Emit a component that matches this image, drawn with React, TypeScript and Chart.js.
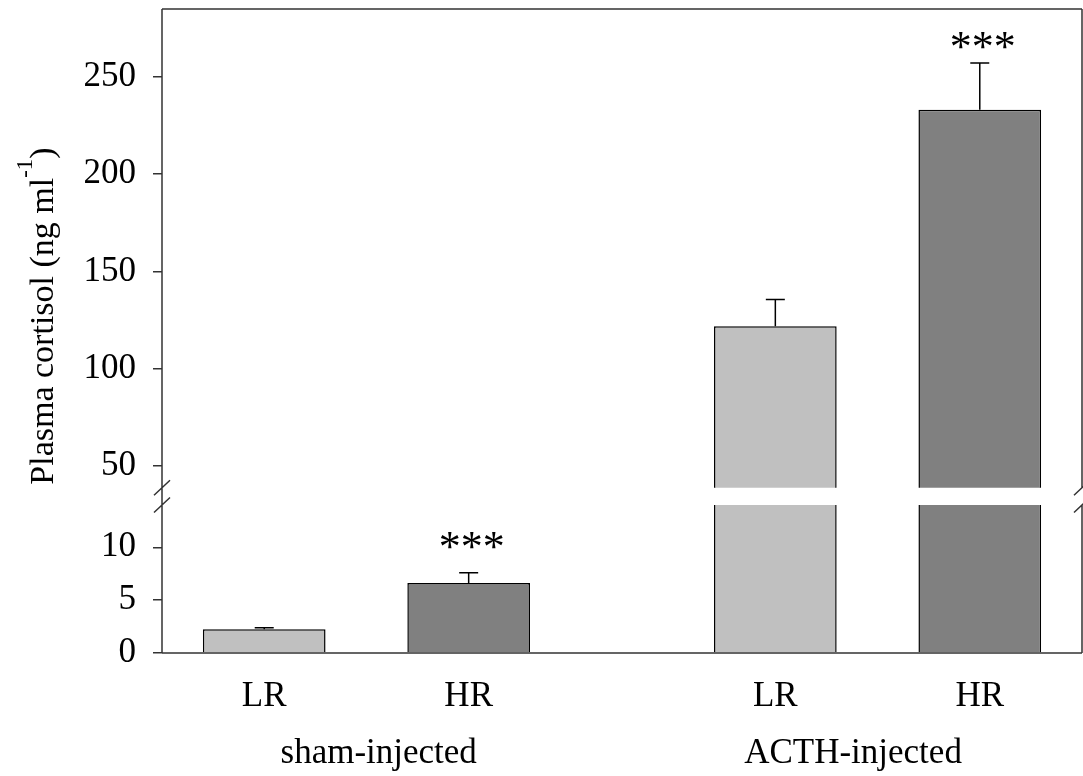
import { useEffect, useRef } from 'react';
import { Chart, registerables } from 'chart.js';

Chart.register(...registerables);

// ---- data ----
const categories = ['LR', 'HR', 'LR', 'HR'];
const xPositions = [0, 1, 2.5, 3.5];
const groups = ['sham-injected', 'ACTH-injected'];
const groupPositions = [0.56, 2.88];
const means = [2.25, 6.63, 121.8, 233.2];
const sems = [0.15, 0.96, 13.7, 24.0];
const significance = ['', '***', '', '***'];
const lowerTicks = [0, 5, 10];
const upperTicks = [50, 100, 150, 200, 250];
const lowerRange = [0, 14];
const upperRange = [38.7, 285];
const xRange = [-0.5, 4.0];
const titleMain = 'Plasma cortisol (ng ml';
const titleSup = '-1';
const titleEnd = ')';

// ---- styles ----
const barColors = ['#c0c0c0', '#808080', '#c0c0c0', '#808080'];
const sigGap = [0, 12, 0, 2];
const FONT = '"Liberation Serif", "Times New Roman", serif';
const AXIS = '#333333';

const framePlugin = {
  id: 'frameAndErrors',
  afterDatasetsDraw(chart: any) {
    const { ctx, chartArea: a, scales } = chart;
    const hi = scales.yHigh;
    const lo = scales.yLow;
    const xs = scales.x;
    ctx.save();
    // error bars
    ctx.strokeStyle = '#000';
    ctx.lineWidth = 1.5;
    ctx.beginPath();
    means.forEach((m, i) => {
      const sc = m > upperRange[0] ? hi : lo;
      const px = xs.getPixelForValue(xPositions[i]);
      const y0 = sc.getPixelForValue(m);
      const y1 = sc.getPixelForValue(m + sems[i]);
      ctx.moveTo(px, y0);
      ctx.lineTo(px, y1);
      ctx.moveTo(px - 9.5, y1);
      ctx.lineTo(px + 9.5, y1);
    });
    ctx.stroke();
    // significance
    ctx.fillStyle = '#000';
    ctx.font = `44px ${FONT}`;
    ctx.textAlign = 'center';
    ctx.textBaseline = 'alphabetic';
    means.forEach((m, i) => {
      if (!significance[i]) return;
      const sc = m > upperRange[0] ? hi : lo;
      const px = xs.getPixelForValue(xPositions[i]);
      const y1 = sc.getPixelForValue(m + sems[i]);
      ctx.fillText(significance[i], px + 3, y1 - sigGap[i]);
    });
    // frame
    ctx.strokeStyle = AXIS;
    ctx.lineWidth = 1.5;
    ctx.beginPath();
    ctx.moveTo(a.left, a.top);
    ctx.lineTo(a.left, a.bottom);
    ctx.moveTo(a.left, a.top);
    ctx.lineTo(a.right, a.top);
    ctx.moveTo(a.left, a.bottom);
    ctx.lineTo(a.right, a.bottom);
    ctx.moveTo(a.right, a.top);
    ctx.lineTo(a.right, hi.bottom);
    ctx.moveTo(a.right, lo.top);
    ctx.lineTo(a.right, a.bottom);
    for (const x of [a.left, a.right]) {
      for (const y of [hi.bottom, lo.top]) {
        ctx.moveTo(x - 8, y + 7.5);
        ctx.lineTo(x + 8, y - 7.5);
      }
    }
    ctx.stroke();
    ctx.restore();
  },
  afterDraw(chart: any) {
    const { ctx } = chart;
    ctx.save();
    const mainFont = `34px ${FONT}`;
    const supFont = `23px ${FONT}`;
    ctx.font = mainFont;
    const w1 = ctx.measureText(titleMain).width;
    const w3 = ctx.measureText(titleEnd).width;
    ctx.font = supFont;
    const w2 = ctx.measureText(titleSup).width;
    const total = w1 + w2 + w3;
    ctx.translate(53, 316);
    ctx.rotate(-Math.PI / 2);
    ctx.fillStyle = '#000';
    ctx.textAlign = 'left';
    ctx.textBaseline = 'alphabetic';
    let x = -total / 2;
    ctx.font = mainFont;
    ctx.fillText(titleMain, x, 0);
    x += w1;
    ctx.font = supFont;
    ctx.fillText(titleSup, x, -21);
    x += w2;
    ctx.font = mainFont;
    ctx.fillText(titleEnd, x, 0);
    ctx.restore();
  },
};

export default function App() {
  const ref = useRef<HTMLCanvasElement | null>(null);
  useEffect(() => {
    if (!ref.current) return;
    const lowerData = xPositions.map((x, i) => ({ x, y: means[i] }));
    const upperData = xPositions
      .map((x, i) => ({ x, y: means[i] }))
      .filter((d) => d.y > upperRange[0]);
    const yCommon = (ticks: number[], range: number[], weight: number, stackWeight: number) => ({
      type: 'linear' as const,
      position: 'left' as const,
      stack: 'y',
      stackWeight,
      weight,
      min: range[0],
      max: range[1],
      border: { display: false },
      grid: {
        display: true,
        drawOnChartArea: false,
        drawTicks: true,
        tickLength: 9,
        color: AXIS,
        lineWidth: 1.5,
      },
      ticks: {
        color: '#000',
        font: { family: FONT, size: 35 },
        padding: 17,
        autoSkip: false,
      },
      afterBuildTicks: (s: any) => {
        s.ticks = ticks.map((v) => ({ value: v }));
      },
      afterFit: (s: any) => {
        s.width = 100;
        s.paddingTop = 0;
        s.paddingBottom = 0;
      },
    });
    const xCommon = (pos: number[], labels: string[], weight: number, height: number, padding: number) => ({
      type: 'linear' as const,
      position: 'bottom' as const,
      weight,
      offset: false,
      min: xRange[0],
      max: xRange[1],
      border: { display: false },
      grid: { display: false },
      ticks: {
        color: '#000',
        font: { family: FONT, size: 35 },
        padding,
        maxRotation: 0,
        autoSkip: false,
        callback: (_v: any, i: number) => labels[i],
      },
      afterBuildTicks: (s: any) => {
        s.ticks = pos.map((v) => ({ value: v }));
      },
      afterFit: (s: any) => {
        s.height = height;
        s.paddingLeft = 0;
        s.paddingRight = 0;
      },
    });
    const chart = new Chart(ref.current, {
      type: 'bar',
      data: {
        datasets: [
          {
            data: lowerData,
            yAxisID: 'yLow',
            xAxisID: 'x',
            backgroundColor: barColors,
            borderColor: '#000',
            borderWidth: 1.5,
            grouped: false,
            barPercentage: 0.6,
            categoryPercentage: 1,
            clip: 0,
          } as any,
          {
            data: upperData,
            yAxisID: 'yHigh',
            xAxisID: 'x',
            backgroundColor: barColors.slice(2),
            borderColor: '#000',
            borderWidth: 1.5,
            grouped: false,
            barPercentage: 0.6,
            categoryPercentage: 1,
            clip: 0,
          } as any,
        ],
      },
      options: {
        animation: false,
        responsive: true,
        maintainAspectRatio: false,
        layout: { padding: { left: 62, right: 1, top: 9, bottom: 0 } },
        plugins: {
          legend: { display: false },
          tooltip: { enabled: false },
        },
        scales: {
          x: xCommon(xPositions, categories, 0, 62, 15),
          x2: xCommon(groupPositions, groups, 1, 61, 10),
          yHigh: yCommon(upperTicks, upperRange, 3, 478.7),
          yGap: {
            type: 'linear',
            position: 'left',
            stack: 'y',
            stackWeight: 17.3,
            weight: 2,
            display: false,
            min: 0,
            max: 1,
            afterFit: (s: any) => {
              s.width = 0;
              s.paddingTop = 0;
              s.paddingBottom = 0;
            },
          },
          yLow: yCommon(lowerTicks, lowerRange, 1, 148),
        } as any,
      },
      plugins: [framePlugin],
    });
    return () => chart.destroy();
  }, []);
  return (
    <div style={{ position: 'absolute', left: 0, top: 0, width: 1083, height: 776 }}>
      <canvas ref={ref} />
    </div>
  );
}
